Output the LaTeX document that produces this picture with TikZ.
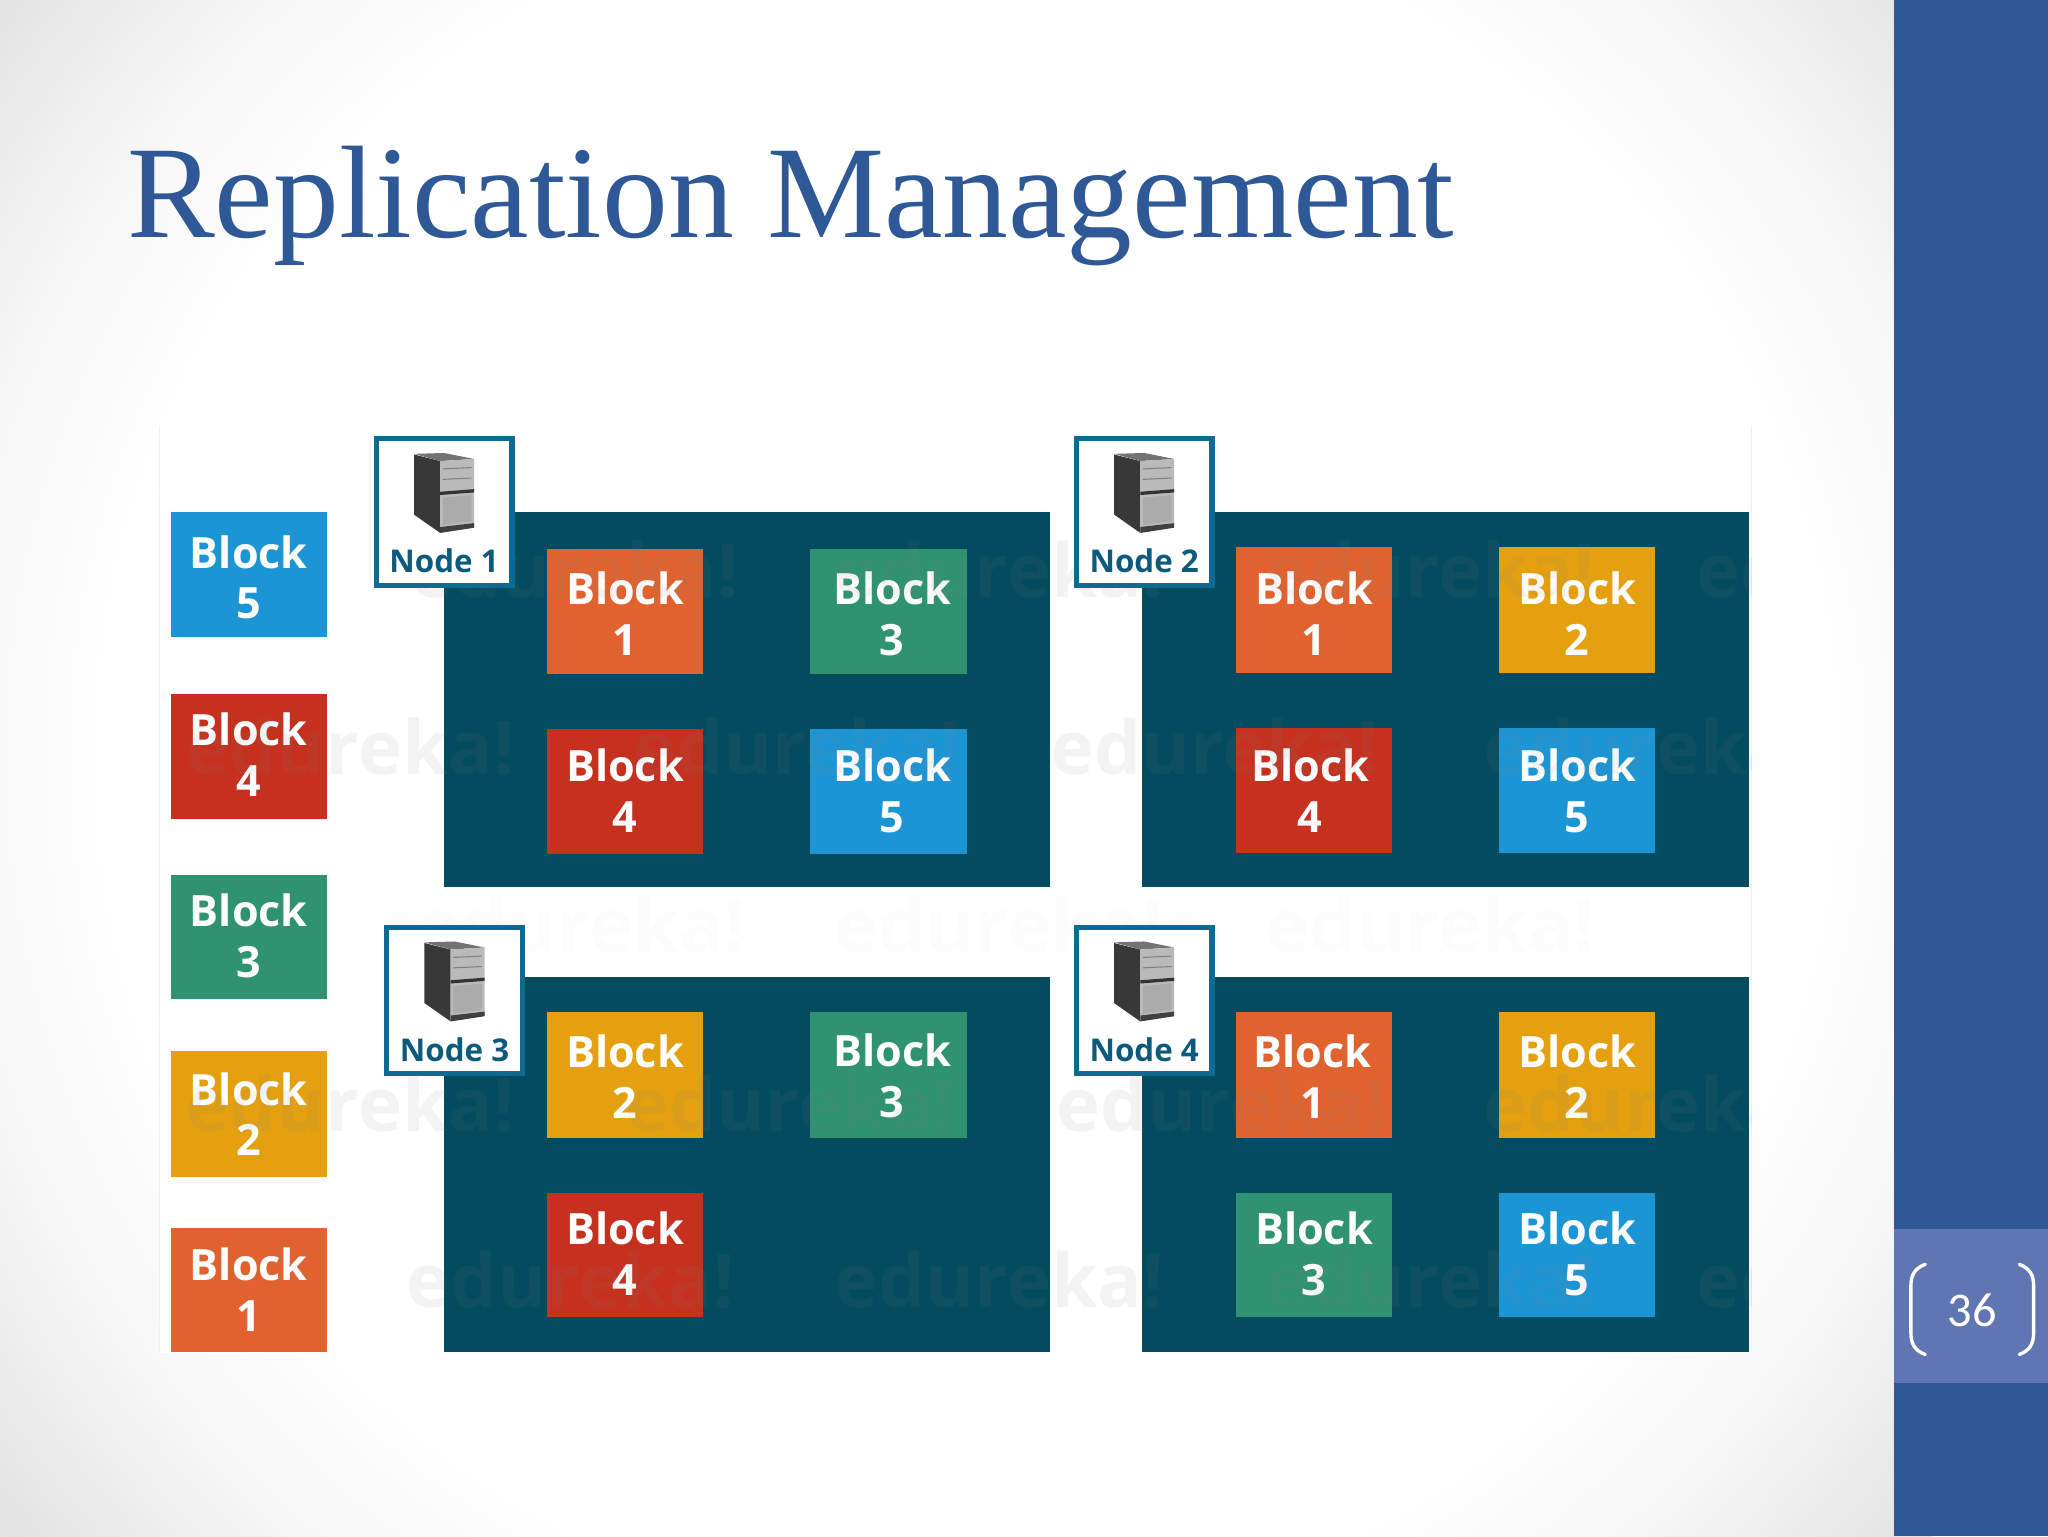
\documentclass[tikz,border=0pt]{standalone}
\usepackage{fontspec}
\setmainfont{Liberation Serif}
\newfontfamily\blockfont{Open Sans}
\newfontfamily\bodyfont{Carlito}
\newlength{\uu}\setlength{\uu}{0.653061pt}
\definecolor{band}{HTML}{2F5897}
\definecolor{pagebox}{HTML}{6076B2}
\definecolor{panelc}{HTML}{034B5F}
\definecolor{framec}{HTML}{0F6A93}
\definecolor{cOr}{HTML}{E0632F}
\definecolor{cRe}{HTML}{C5301F}
\definecolor{cGr}{HTML}{2F9270}
\definecolor{cYe}{HTML}{E4A00F}
\definecolor{cBl}{HTML}{1C95D5}
\definecolor{bgA}{HTML}{F7F7F7}
\definecolor{bgB}{HTML}{E2E2E2}
\pgfdeclareradialshading{slidebg}{\pgfpoint{0bp}{0bp}}{color(0bp)=(white); color(17bp)=(white); color(20.5bp)=(bgA); color(25bp)=(bgB); color(50bp)=(bgB)}
\tikzset{
  panelbox/.style={fill=panelc,draw=none},
  blockbox/.style={draw=none,text=white,inner sep=0pt,align=center,
    font=\blockfont\bfseries\fontsize{33\uu}{39\uu}\selectfont},
  framebox/.style={draw=framec,line width=4\uu,fill=white,inner sep=0pt,minimum width=104\uu,minimum height=112\uu},
  nodelabel/.style={text=framec!85!black,inner sep=0pt,font=\blockfont\bfseries\fontsize{24\uu}{28\uu}\selectfont},
  wmark/.style={text=black!50,opacity=.09,inner sep=0pt,font=\blockfont\bfseries\fontsize{57\uu}{57\uu}\selectfont},
  wmarkfaint/.style={wmark,opacity=.025},
  bracketline/.style={draw=white,line width=2.6\uu,line cap=round},
}
% \blk[text offset x,y]{name}{x1}{y1}{x2}{y2}{colour}{digit}
\newcommand{\blk}[8][0,0]{\node[blockbox,fill=#7,minimum width={(#5-#3)*\uu},minimum height={(#6-#4)*\uu}] (#2) at ({(#3+#5)/2},{(#4+#6)/2}) {};
  \node[blockbox,shift={(#1)}] (#2text) at ({(#3+#5)/2},{(#4+#6)/2+2}) {Block\\#8};}
% \srv{name}{x of frame left}{y of frame top}{label}
\newcommand{\srv}[4]{
  \node[framebox,anchor=north west] (#1) at (#2-1,#3-1) {};
  \begin{scope}[shift={(#2-2,#3-1)}]
    \fill[black!78] (32,14) -- (52,19) -- (52,74) -- (32,60) -- cycle;
    \fill[black!55] (32,13.5) -- (55,12.8) -- (78,17.4) -- (52,19) -- cycle;
    \fill[black!27] (52,19) -- (78,17.4) -- (78,70) -- (52,74) -- cycle;
    \fill[black!80] (52,42.5) -- (78,40.5) -- (78,43) -- (52,45) -- cycle;
    \fill[black!75] (52,69.5) -- (78,66.5) -- (78,70) -- (52,74) -- cycle;
    \draw[black!50,line width=.8\uu] (54,25) -- (76,24) (54,33) -- (76,32);
    \fill[black!33] (54,47) -- (76,45) -- (76,65) -- (54,68) -- cycle;
  \end{scope}
  \node[nodelabel] (#1label) at (#2+53,#3+94.5) {#4};
}
\begin{document}
\begin{tikzpicture}[x=0.653061pt,y=-0.653061pt]
\useasboundingbox (0,0) rectangle (1568,1176);
% background
\begin{scope}
  \clip (0,0) rectangle (1568,1176);
  \shade[shading=slidebg] (740,580) circle (950);
\end{scope}
\fill[band] (1450,0) rectangle (1568,1176);
\fill[pagebox] (1450,941) rectangle (1568,1059);
\node[inner sep=0pt,text=band,anchor=base west,font=\fontsize{100.8\uu}{110\uu}\selectfont] (title) at (97,182) {Replication Management};
% page number
\node[inner sep=0pt,text=white,font=\bodyfont\fontsize{37\uu}{40\uu}\selectfont] (page) at (1510,1003) {36};
\draw[bracketline] (1474,968) .. controls (1466,971) and (1463,976) .. (1463,985) -- (1463,1020) .. controls (1463,1029) and (1466,1034) .. (1474,1037);
\draw[bracketline] (1546,968) .. controls (1554,971) and (1557,976) .. (1557,985) -- (1557,1020) .. controls (1557,1029) and (1554,1034) .. (1546,1037);
% picture ground
\fill[white] (122,326) rectangle (1341,1036);
\draw[black!6,line width=1\uu] (122,326) -- (122,1036) (1341,326) -- (1341,1036);
% panels
\fill[panelbox] (340,392) rectangle (804,679);
\fill[panelbox] (874,392) rectangle (1339,679);
\fill[panelbox] (340,748) rectangle (804,1035);
\fill[panelbox] (874,748) rectangle (1339,1035);
% loose blocks
\blk{l5}{131}{392}{250}{488}{cBl}{5}
\blk[0,-3]{l4}{131}{531}{250}{627}{cRe}{4}
\blk[0,-3]{l3}{131}{670}{250}{765}{cGr}{3}
\blk[0,-2]{l2}{131}{805}{250}{901}{cYe}{2}
\blk[0,-2]{l1}{131}{940}{250}{1035}{cOr}{1}
% node 1
\blk{a1}{419}{420}{538}{516}{cOr}{1}
\blk[3,0]{a3}{620}{420}{740}{516}{cGr}{3}
\blk[0,-2.5]{a4}{419}{558}{538}{654}{cRe}{4}
\blk[3,-2.5]{a5}{620}{558}{740}{654}{cBl}{5}
% node 2
\blk[0,1]{b1}{946}{419}{1066}{515}{cOr}{1}
\blk[0,1]{b2}{1148}{419}{1267}{515}{cYe}{2}
\blk[-3,-1.5]{b4}{946}{557}{1066}{653}{cRe}{4}
\blk[0,-1.5]{b5}{1148}{557}{1267}{653}{cBl}{5}
% node 3
\blk[0,-1]{c2}{419}{775}{538}{871}{cYe}{2}
\blk[3,-1]{c3}{620}{775}{740}{871}{cGr}{3}
\blk[0,-2.5]{c4}{419}{913}{538}{1008}{cRe}{4}
% node 4
\blk[-1,-1]{d1}{946}{775}{1066}{871}{cOr}{1}
\blk[0,-1]{d2}{1148}{775}{1267}{871}{cYe}{2}
\blk[0,-2.5]{d3}{946}{913}{1066}{1008}{cGr}{3}
\blk[0,-2.5]{d5}{1148}{913}{1267}{1008}{cBl}{5}
% watermark
\begin{scope}
  \clip (122,326) rectangle (1341,1036);
  \foreach \wx/\wy [count=\wi] in {440/436,765/436,1095/436,1425/436,
      268/572,610/572,930/572,1262/572,
      268/845,605/845,935/845,1262/845,
      437/980,765/980,1095/980,1425/980}
    \node[wmark] (wm\wi) at (\wx,\wy) {edureka!};
  \foreach \wx/\wy [count=\wi] in {445/708,765/708,1095/708}
    \node[wmarkfaint] (wf\wi) at (\wx,\wy) {edureka!};
\end{scope}
% server frames
\srv{n1}{287}{335}{Node 1}
\srv{n2}{823}{335}{Node 2}
\srv{n3}{295}{709}{Node 3}
\srv{n4}{823}{709}{Node 4}
\end{tikzpicture}
\end{document}
